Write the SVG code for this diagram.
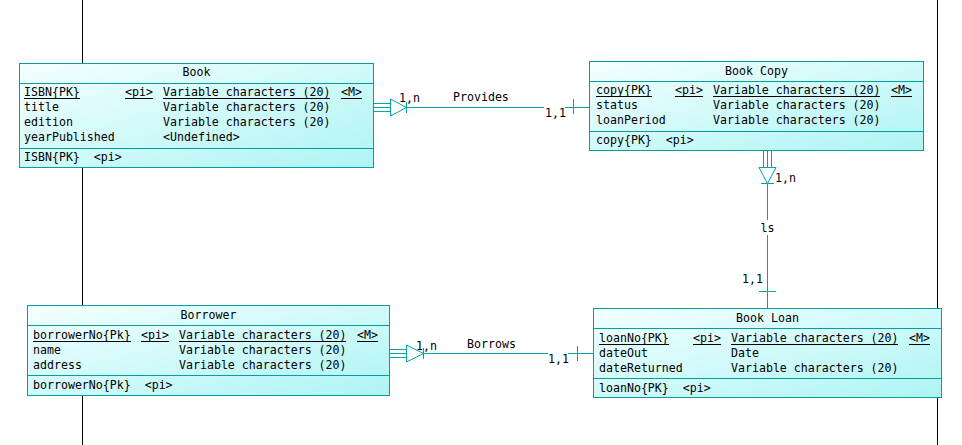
<svg xmlns="http://www.w3.org/2000/svg" width="962" height="445" viewBox="0 0 962 445">
  <style>
    .t { font-family: "DejaVu Sans Mono", "Liberation Mono", monospace; font-size: 11.6px; fill: #000; white-space: pre; }
    .c { text-anchor: middle; }
    .box { fill: url(#entityFill); stroke: #00a0a0; stroke-width: 1; }
    .div { stroke: #00a0a0; stroke-width: 1; }
    .ul { stroke: #000; stroke-width: 1; }
    .ln { stroke: #00a4a4; stroke-width: 1; fill: none; }
    .lane { stroke: #000; stroke-width: 1; }
  </style>
  <defs>
    <linearGradient id="entityFill" x1="0" y1="0" x2="1" y2="1">
      <stop offset="0" stop-color="#f4ffff"/>
      <stop offset="1" stop-color="#aef4f4"/>
    </linearGradient>
  </defs>

  <rect width="962" height="445" fill="#fff"/>

  <!-- swimlane borders -->
  <g id="lanes">
    <line class="lane" x1="82.5" y1="0" x2="82.5" y2="445"/>
    <line class="lane" x1="937.5" y1="0" x2="937.5" y2="445"/>
  </g>

  <!-- relationships -->
  <g id="connectors">
    <!-- Provides: Book (1,n) to Book Copy (1,1) -->
    <line class="ln" x1="373" y1="103.5" x2="390" y2="103.5"/>
    <line class="ln" x1="373" y1="107.5" x2="390" y2="107.5"/>
    <line class="ln" x1="373" y1="111.5" x2="390" y2="111.5"/>
    <polygon class="ln" points="390.5,99 406.5,107.5 390.5,116"/>
    <line class="ln" x1="406.5" y1="102" x2="406.5" y2="113"/>
    <line class="ln" x1="406.5" y1="107.5" x2="544" y2="107.5"/>
    <line class="ln" x1="565" y1="107.5" x2="589" y2="107.5"/>
    <line class="ln" x1="573.5" y1="99" x2="573.5" y2="114"/>
    <text class="t" x="399" y="102">1,n</text>
    <text class="t" x="453" y="101">Provides</text>
    <text class="t" x="545" y="117">1,1</text>

    <!-- ls: Book Copy (1,n) to Book Loan (1,1) -->
    <line class="ln" x1="763.5" y1="151" x2="763.5" y2="168"/>
    <line class="ln" x1="767.5" y1="151" x2="767.5" y2="168"/>
    <line class="ln" x1="771.5" y1="151" x2="771.5" y2="168"/>
    <polygon class="ln" points="759,167.5 767.5,183.5 776,167.5"/>
    <line class="ln" x1="761" y1="183.5" x2="774" y2="183.5"/>
    <line class="ln" x1="767.5" y1="183.5" x2="767.5" y2="220"/>
    <line class="ln" x1="767.5" y1="235" x2="767.5" y2="308"/>
    <line class="ln" x1="759" y1="291.5" x2="776" y2="291.5"/>
    <text class="t" x="775" y="182">1,n</text>
    <text class="t c" x="767.5" y="232">ls</text>
    <text class="t" x="742" y="283">1,1</text>

    <!-- Borrows: Borrower (1,n) to Book Loan (1,1) -->
    <line class="ln" x1="389" y1="349.5" x2="406" y2="349.5"/>
    <line class="ln" x1="389" y1="353.5" x2="406" y2="353.5"/>
    <line class="ln" x1="389" y1="357.5" x2="406" y2="357.5"/>
    <polygon class="ln" points="406.5,345 423.5,353.5 406.5,362"/>
    <line class="ln" x1="423.5" y1="348" x2="423.5" y2="359"/>
    <line class="ln" x1="423.5" y1="353.5" x2="548" y2="353.5"/>
    <line class="ln" x1="568" y1="353.5" x2="593" y2="353.5"/>
    <line class="ln" x1="577.5" y1="346" x2="577.5" y2="361"/>
    <text class="t" x="416" y="350">1,n</text>
    <text class="t" x="467" y="348">Borrows</text>
    <text class="t" x="548" y="363">1,1</text>
  </g>

  <!-- Book entity -->
  <g id="book">
    <rect class="box" x="19.5" y="63.5" width="354" height="104"/>
    <line class="div" x1="19.5" y1="83.5" x2="373.5" y2="83.5"/>
    <line class="div" x1="19.5" y1="148.5" x2="373.5" y2="148.5"/>
    <text class="t c" x="196.5" y="76">Book</text>
    <text class="t" x="24" y="96">ISBN{PK}</text>
    <text class="t" x="125" y="96">&lt;pi&gt;</text>
    <text class="t" x="163" y="96">Variable characters (20)</text>
    <text class="t" x="341" y="96">&lt;M&gt;</text>
    <line class="ul" x1="24" y1="98.5" x2="80" y2="98.5"/>
    <line class="ul" x1="125" y1="98.5" x2="153" y2="98.5"/>
    <line class="ul" x1="163" y1="98.5" x2="330" y2="98.5"/>
    <line class="ul" x1="341" y1="98.5" x2="362" y2="98.5"/>
    <text class="t" x="24" y="111">title</text>
    <text class="t" x="163" y="111">Variable characters (20)</text>
    <text class="t" x="24" y="126">edition</text>
    <text class="t" x="163" y="126">Variable characters (20)</text>
    <text class="t" x="24" y="141">yearPublished</text>
    <text class="t" x="163" y="141">&lt;Undefined&gt;</text>
    <text class="t" x="24" y="161">ISBN{PK}  &lt;pi&gt;</text>
  </g>

  <!-- Book Copy entity -->
  <g id="book-copy">
    <rect class="box" x="589.5" y="61.5" width="334" height="89"/>
    <line class="div" x1="589.5" y1="81.5" x2="923.5" y2="81.5"/>
    <line class="div" x1="589.5" y1="131.5" x2="923.5" y2="131.5"/>
    <text class="t c" x="756.5" y="75">Book Copy</text>
    <text class="t" x="596" y="94">copy{PK}</text>
    <text class="t" x="675" y="94">&lt;pi&gt;</text>
    <text class="t" x="713" y="94">Variable characters (20)</text>
    <text class="t" x="891" y="94">&lt;M&gt;</text>
    <line class="ul" x1="596" y1="96.5" x2="652" y2="96.5"/>
    <line class="ul" x1="675" y1="96.5" x2="703" y2="96.5"/>
    <line class="ul" x1="713" y1="96.5" x2="880" y2="96.5"/>
    <line class="ul" x1="891" y1="96.5" x2="912" y2="96.5"/>
    <text class="t" x="596" y="109">status</text>
    <text class="t" x="713" y="109">Variable characters (20)</text>
    <text class="t" x="596" y="124">loanPeriod</text>
    <text class="t" x="713" y="124">Variable characters (20)</text>
    <text class="t" x="596" y="144">copy{PK}  &lt;pi&gt;</text>
  </g>

  <!-- Borrower entity -->
  <g id="borrower">
    <rect class="box" x="27.5" y="305.5" width="362" height="90"/>
    <line class="div" x1="27.5" y1="325.5" x2="389.5" y2="325.5"/>
    <line class="div" x1="27.5" y1="375.5" x2="389.5" y2="375.5"/>
    <text class="t c" x="208.5" y="319">Borrower</text>
    <text class="t" x="33" y="339">borrowerNo{Pk}</text>
    <text class="t" x="141" y="339">&lt;pi&gt;</text>
    <text class="t" x="179" y="339">Variable characters (20)</text>
    <text class="t" x="357" y="339">&lt;M&gt;</text>
    <line class="ul" x1="33" y1="341.5" x2="131" y2="341.5"/>
    <line class="ul" x1="141" y1="341.5" x2="169" y2="341.5"/>
    <line class="ul" x1="179" y1="341.5" x2="346" y2="341.5"/>
    <line class="ul" x1="357" y1="341.5" x2="378" y2="341.5"/>
    <text class="t" x="33" y="354">name</text>
    <text class="t" x="179" y="354">Variable characters (20)</text>
    <text class="t" x="33" y="369">address</text>
    <text class="t" x="179" y="369">Variable characters (20)</text>
    <text class="t" x="33" y="389">borrowerNo{Pk}  &lt;pi&gt;</text>
  </g>

  <!-- Book Loan entity -->
  <g id="book-loan">
    <rect class="box" x="593.5" y="308.5" width="348" height="89"/>
    <line class="div" x1="593.5" y1="328.5" x2="941.5" y2="328.5"/>
    <line class="div" x1="593.5" y1="378.5" x2="941.5" y2="378.5"/>
    <text class="t c" x="767.5" y="322">Book Loan</text>
    <text class="t" x="599" y="342">loanNo{PK}</text>
    <text class="t" x="693" y="342">&lt;pi&gt;</text>
    <text class="t" x="731" y="342">Variable characters (20)</text>
    <text class="t" x="909" y="342">&lt;M&gt;</text>
    <line class="ul" x1="599" y1="344.5" x2="669" y2="344.5"/>
    <line class="ul" x1="693" y1="344.5" x2="721" y2="344.5"/>
    <line class="ul" x1="731" y1="344.5" x2="898" y2="344.5"/>
    <line class="ul" x1="909" y1="344.5" x2="930" y2="344.5"/>
    <text class="t" x="599" y="357">dateOut</text>
    <text class="t" x="731" y="357">Date</text>
    <text class="t" x="599" y="372">dateReturned</text>
    <text class="t" x="731" y="372">Variable characters (20)</text>
    <text class="t" x="599" y="392">loanNo{PK}  &lt;pi&gt;</text>
  </g>
</svg>
